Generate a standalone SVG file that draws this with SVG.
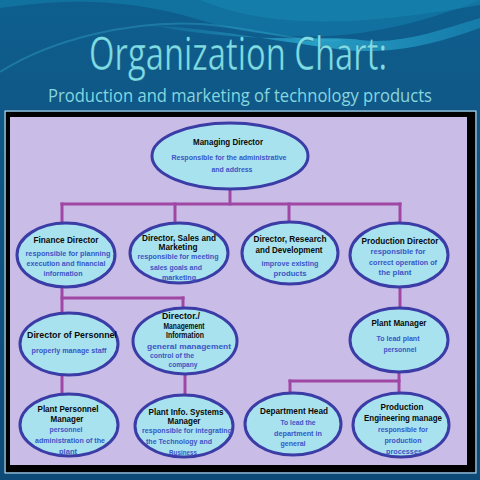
<svg xmlns="http://www.w3.org/2000/svg" width="480" height="480" viewBox="0 0 480 480">
<defs>
<linearGradient id="bg" x1="0" y1="0" x2="0" y2="1">
<stop offset="0" stop-color="#0e5f8e"/>
<stop offset="0.25" stop-color="#0f5786"/>
<stop offset="1" stop-color="#0d4a78"/>
</linearGradient>
<linearGradient id="sw" x1="0" y1="0" x2="1" y2="0">
<stop offset="0" stop-color="#1f8fb8" stop-opacity="0.2"/>
<stop offset="0.5" stop-color="#2aa6cc" stop-opacity="0.9"/>
<stop offset="1" stop-color="#1b8fbd" stop-opacity="0.6"/>
</linearGradient>
<style>
.node ellipse{fill:#a8e2ef;stroke:#3b3ca6;stroke-width:3}
.t{font-family:"Liberation Sans",Arial,sans-serif;font-weight:bold;font-size:9.5px;fill:#0a0a0a;text-anchor:middle}
.t2{font-family:"Liberation Sans",Arial,sans-serif;font-weight:bold;font-size:8.6px;fill:#0a0a0a;text-anchor:middle}
.d{font-family:"Liberation Sans",Arial,sans-serif;font-weight:bold;font-size:8px;fill:#3a55c6;text-anchor:middle}
#connectors line{stroke:#a046a4;stroke-width:3;stroke-linecap:square}
</style>
</defs>
<rect x="0" y="0" width="480" height="480" fill="url(#bg)"/>
<path d="M0,8 C60,0 120,-4 200,20 C290,48 380,40 480,0 L480,0 L0,0 Z" fill="#1279a6" opacity="0.7"/>
<path d="M150,25 C250,45 330,35 360,40 C400,45 440,30 480,18 L480,28 C440,42 390,58 330,48 C270,40 220,30 150,25 Z" fill="url(#sw)"/>
<path d="M0,72 C50,40 130,20 200,24 C260,28 300,44 340,40" fill="none" stroke="#3aaed2" stroke-opacity="0.35" stroke-width="2"/>
<path d="M200,0 C260,25 340,30 480,5 L480,0 Z" fill="#1a8ab5" opacity="0.5"/>
<text transform="translate(238,70) scale(1,1.2)" x="0" y="0" font-family="'Open Sans','Noto Sans',sans-serif" font-size="38" fill="#7ddde6" stroke="#0a3a5c" stroke-width="0.5" stroke-opacity="0.5" text-anchor="middle" textLength="298" lengthAdjust="spacingAndGlyphs">Organization Chart:</text>
<text x="240" y="102" font-family="'Open Sans','Noto Sans',sans-serif" font-size="18" fill="#86d6df" text-anchor="middle" textLength="384" lengthAdjust="spacingAndGlyphs">Production and marketing of technology products</text>
<rect x="5" y="111" width="471" height="362" fill="none" stroke="#cfe3ee" stroke-width="1"/>
<rect x="6" y="112" width="469" height="360" fill="#000"/>
<rect x="10" y="117" width="457" height="348" fill="#c9bde7"/>
<g id="connectors">
<line x1="230" y1="189" x2="230" y2="204"/>
<line x1="62" y1="204" x2="400" y2="204"/>
<line x1="62" y1="204" x2="62" y2="224"/>
<line x1="175" y1="204" x2="175" y2="223"/>
<line x1="289" y1="204" x2="289" y2="222"/>
<line x1="400" y1="204" x2="400" y2="223"/>
<line x1="62" y1="287" x2="62" y2="313"/>
<line x1="62" y1="298" x2="183" y2="298"/>
<line x1="183" y1="298" x2="183" y2="308"/>
<line x1="62" y1="375" x2="62" y2="394"/>
<line x1="185" y1="373" x2="185" y2="395"/>
<line x1="400" y1="288" x2="400" y2="308"/>
<line x1="399" y1="372" x2="399" y2="394"/>
<line x1="290" y1="381" x2="399" y2="381"/>
<line x1="290" y1="381" x2="290" y2="393"/>
</g>
<g id="managing-director" class="node">
<ellipse cx="230" cy="156" rx="78" ry="33"/>
<text class="t" x="228" y="145" textLength="70" lengthAdjust="spacingAndGlyphs">Managing Director</text>
<text class="d" x="229" y="160" textLength="115" lengthAdjust="spacingAndGlyphs">Responsible for the administrative</text>
<text class="d" x="232" y="172" textLength="41" lengthAdjust="spacingAndGlyphs">and address</text>
</g>
<g id="finance-director" class="node">
<ellipse cx="66" cy="255" rx="49" ry="32"/>
<text class="t" x="66" y="243" textLength="65" lengthAdjust="spacingAndGlyphs">Finance Director</text>
<text class="d" x="70" y="256" textLength="89" lengthAdjust="spacingAndGlyphs">responsible for planning ,</text>
<text class="d" x="66" y="266" textLength="79" lengthAdjust="spacingAndGlyphs">execution and financial</text>
<text class="d" x="63" y="276" textLength="39" lengthAdjust="spacingAndGlyphs">information</text>
</g>
<g id="director-sales" class="node">
<ellipse cx="179" cy="253" rx="49" ry="30"/>
<text class="t2" x="179" y="241" textLength="74" lengthAdjust="spacingAndGlyphs">Director, Sales and</text>
<text class="t2" x="178" y="250" textLength="39" lengthAdjust="spacingAndGlyphs">Marketing</text>
<text class="d" x="178" y="259" textLength="81" lengthAdjust="spacingAndGlyphs">responsible for meeting</text>
<text class="d" x="176" y="270" textLength="52" lengthAdjust="spacingAndGlyphs">sales goals and</text>
<text class="d" x="179" y="280" textLength="34" lengthAdjust="spacingAndGlyphs">marketing</text>
</g>
<g id="director-rd" class="node">
<ellipse cx="290" cy="253" rx="48" ry="31"/>
<text class="t" x="290" y="242" textLength="73" lengthAdjust="spacingAndGlyphs">Director, Research</text>
<text class="t" x="289" y="253" textLength="67" lengthAdjust="spacingAndGlyphs">and Development</text>
<text class="d" x="290" y="266" textLength="57" lengthAdjust="spacingAndGlyphs">improve existing</text>
<text class="d" x="290" y="276" textLength="33" lengthAdjust="spacingAndGlyphs">products</text>
</g>
<g id="production-director" class="node">
<ellipse cx="399" cy="255" rx="49" ry="32"/>
<text class="t" x="400" y="244" textLength="77" lengthAdjust="spacingAndGlyphs">Production Director</text>
<text class="d" x="398" y="254" textLength="55" lengthAdjust="spacingAndGlyphs">responsible for</text>
<text class="d" x="403" y="265" textLength="68" lengthAdjust="spacingAndGlyphs">correct operation of</text>
<text class="d" x="395" y="275" textLength="33" lengthAdjust="spacingAndGlyphs">the plant</text>
</g>
<g id="director-personnel" class="node">
<ellipse cx="69" cy="344" rx="49" ry="31"/>
<text class="t" x="72" y="338" textLength="90" lengthAdjust="spacingAndGlyphs">Director of Personnel</text>
<text class="d" x="69" y="353" textLength="75" lengthAdjust="spacingAndGlyphs">properly manage staff</text>
</g>
<g id="director-mis" class="node">
<ellipse cx="185" cy="341" rx="52" ry="33"/>
<text class="t2" x="181" y="319" textLength="38" lengthAdjust="spacingAndGlyphs">Director./</text>
<text class="t2" x="184" y="328.5" textLength="41" lengthAdjust="spacingAndGlyphs">Management</text>
<text class="t2" x="185" y="338" textLength="38" lengthAdjust="spacingAndGlyphs">Information</text>
<text class="d" x="189" y="349" textLength="84" lengthAdjust="spacingAndGlyphs">general management</text>
<text class="d" x="172" y="358" textLength="44" lengthAdjust="spacingAndGlyphs">control of the</text>
<text class="d" x="183" y="367" textLength="29" lengthAdjust="spacingAndGlyphs">company</text>
</g>
<g id="plant-manager" class="node">
<ellipse cx="399" cy="340" rx="49" ry="32"/>
<text class="t" x="399" y="326" textLength="55" lengthAdjust="spacingAndGlyphs">Plant Manager</text>
<text class="d" x="398" y="341" textLength="43" lengthAdjust="spacingAndGlyphs">To lead plant</text>
<text class="d" x="400" y="352" textLength="33" lengthAdjust="spacingAndGlyphs">personnel</text>
</g>
<g id="plant-personnel-manager" class="node">
<ellipse cx="69" cy="425" rx="49" ry="31"/>
<text class="t" x="68" y="412" textLength="61" lengthAdjust="spacingAndGlyphs">Plant Personnel</text>
<text class="t" x="67" y="422" textLength="33" lengthAdjust="spacingAndGlyphs">Manager</text>
<text class="d" x="66" y="432" textLength="33" lengthAdjust="spacingAndGlyphs">personnel</text>
<text class="d" x="70" y="443" textLength="70" lengthAdjust="spacingAndGlyphs">administration of the</text>
<text class="d" x="68" y="454" textLength="18" lengthAdjust="spacingAndGlyphs">plant</text>
</g>
<g id="plant-info-systems-manager" class="node">
<ellipse cx="184" cy="426" rx="49" ry="31"/>
<text class="t2" x="186" y="414.5" textLength="75" lengthAdjust="spacingAndGlyphs">Plant Info. Systems</text>
<text class="t2" x="184" y="424" textLength="33" lengthAdjust="spacingAndGlyphs">Manager</text>
<text class="d" x="187" y="433" textLength="90" lengthAdjust="spacingAndGlyphs">responsible for integrating</text>
<text class="d" x="179" y="444" textLength="66" lengthAdjust="spacingAndGlyphs">the Technology and</text>
<text class="d" x="183" y="455" textLength="28" lengthAdjust="spacingAndGlyphs">Business</text>
</g>
<g id="department-head" class="node">
<ellipse cx="293" cy="424" rx="48" ry="31"/>
<text class="t" x="294" y="414" textLength="68" lengthAdjust="spacingAndGlyphs">Department Head</text>
<text class="d" x="298" y="425" textLength="35" lengthAdjust="spacingAndGlyphs">To lead the</text>
<text class="d" x="298" y="436" textLength="48" lengthAdjust="spacingAndGlyphs">department in</text>
<text class="d" x="293" y="446" textLength="25" lengthAdjust="spacingAndGlyphs">general</text>
</g>
<g id="production-engineering-manager" class="node">
<ellipse cx="401" cy="425" rx="48" ry="32"/>
<text class="t" x="402" y="410" textLength="43" lengthAdjust="spacingAndGlyphs">Production</text>
<text class="t" x="403" y="421" textLength="78" lengthAdjust="spacingAndGlyphs">Engineering manage</text>
<text class="d" x="403" y="432" textLength="50" lengthAdjust="spacingAndGlyphs">responsible for</text>
<text class="d" x="403" y="443" textLength="37" lengthAdjust="spacingAndGlyphs">production</text>
<text class="d" x="404" y="454" textLength="36" lengthAdjust="spacingAndGlyphs">processes</text>
</g>
</svg>
